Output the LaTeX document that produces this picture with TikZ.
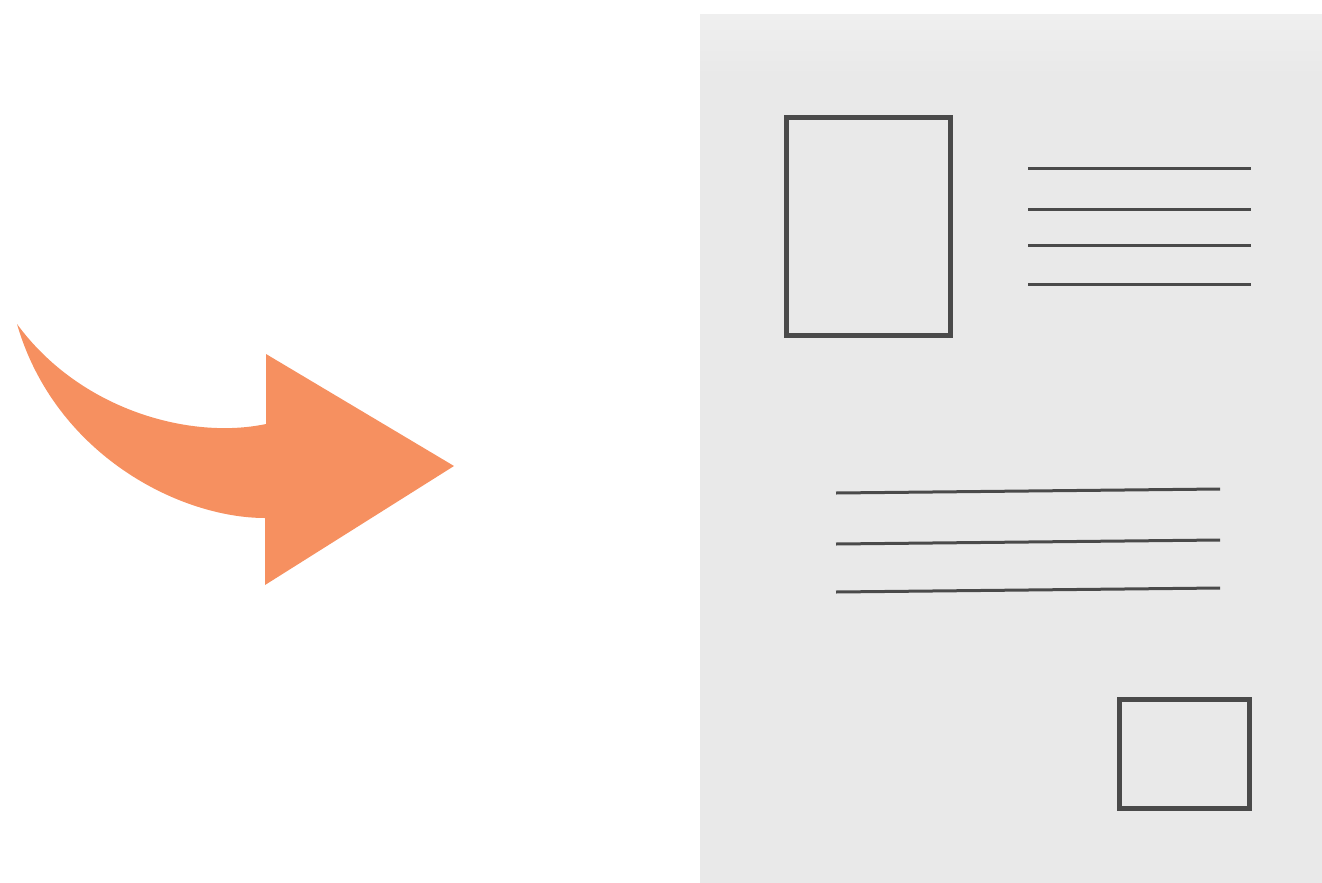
\documentclass[tikz,border=0pt]{standalone}
\begin{document}
\begin{tikzpicture}[x=1pt,y=-1pt,
  ink/.style={draw=inkgray,line width=5pt},
  textline/.style={draw=inkgray,line width=3pt}]
\definecolor{inkgray}{HTML}{4A4A4A}
\definecolor{paper}{HTML}{E9E9E9}
\definecolor{paperlight}{HTML}{EFEFEF}
\definecolor{arroworange}{HTML}{F69060}
\useasboundingbox (0,0) rectangle (1322,883);
% paper
\fill[paper] (700,15) rectangle (1322,883);
\shade[top color=paperlight,bottom color=paper] (700,15) rectangle (1322,75);
% curved arrow
\fill[arroworange] (17,324) .. controls (80,410) and (190,440) .. (266,424)
  -- (266,354) -- (454,466) -- (265,585) -- (265,518)
  .. controls (180,518) and (55,455) .. (17,324) -- cycle;
% picture frame
\draw[ink] (786,117) rectangle (950,335);
% top text lines
\draw[textline] (1028,168) -- (1251,168);
\draw[textline] (1028,209) -- (1251,209);
\draw[textline] (1028,245) -- (1251,245);
\draw[textline] (1028,284) -- (1251,284);
% middle text lines
\draw[textline] (836,493) -- (1220,489);
\draw[textline] (836,544) -- (1220,540);
\draw[textline] (836,592) -- (1220,588);
% stamp box
\draw[ink] (1119,699) rectangle (1249,808);
\end{tikzpicture}
\end{document}
